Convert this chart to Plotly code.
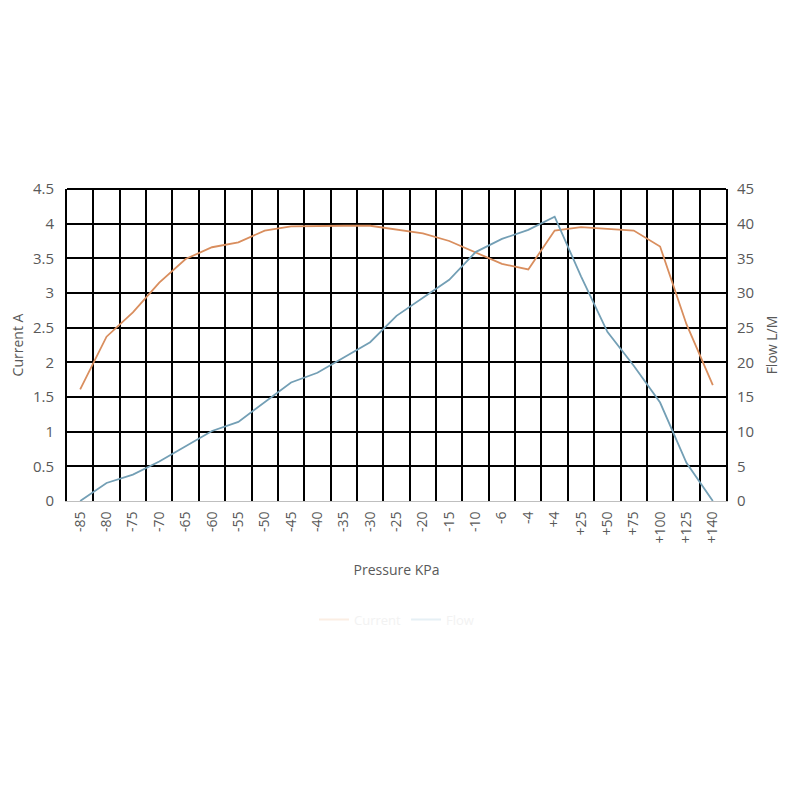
import plotly.graph_objects as go

pressure = ["-85", "-80", "-75", "-70", "-65", "-60", "-55", "-50", "-45", "-40",
            "-35", "-30", "-25", "-20", "-15", "-10", "-6", "-4", "+4", "+25",
            "+50", "+75", "+100", "+125", "+140"]
current_a = [1.61, 2.37, 2.72, 3.15, 3.49, 3.66, 3.73, 3.90, 3.96, 3.97,
             3.97, 3.97, 3.91, 3.86, 3.75, 3.58, 3.42, 3.34, 3.90, 3.95,
             3.92, 3.90, 3.67, 2.55, 1.67]
flow_lpm = [0.0, 2.6, 3.8, 5.7, 7.9, 10.1, 11.4, 14.2, 17.1, 18.5,
            20.7, 22.9, 26.7, 29.3, 31.9, 35.9, 37.8, 39.1, 41.0, 32.4,
            24.4, 19.5, 14.2, 5.5, 0.0]

ORANGE = "#d98e5e"
BLUE = "#739fb5"
GRID = "#000000"
TXT = "#595959"
FONT = "Open Sans"

fig = go.Figure()
fig.add_trace(go.Scatter(x=pressure, y=current_a, mode="lines", name="Current",
                         line=dict(color=ORANGE, width=1.8), showlegend=False))
fig.add_trace(go.Scatter(x=pressure, y=flow_lpm, mode="lines", name="Flow",
                         line=dict(color=BLUE, width=1.8), yaxis="y2", showlegend=False))
# faded legend entries (legend is washed out in the source)
fig.add_trace(go.Scatter(x=[None], y=[None], mode="lines", name="Current",
                         line=dict(color="#fbeee3", width=2)))
fig.add_trace(go.Scatter(x=[None], y=[None], mode="lines", name="Flow",
                         line=dict(color="#e6f0f5", width=2)))

fig.update_layout(
    width=800, height=800,
    margin=dict(l=59, r=82, t=181, b=307),
    paper_bgcolor="white", plot_bgcolor="white",
    font=dict(family=FONT, color=TXT, size=13),
    showlegend=True,
    legend=dict(orientation="h", x=0.5, xanchor="center", y=-0.38, yanchor="middle",
                font=dict(color="#f2f2f2", size=13), bgcolor="rgba(0,0,0,0)"),
    xaxis=dict(
        type="category", tickson="boundaries", ticks="outside", ticklen=0,
        tickcolor="white", automargin=False,
        range=[-0.5, len(pressure) - 0.5],
        tickangle=-90, showgrid=True, gridcolor=GRID, gridwidth=2,
        showline=True, linecolor="#bfbfbf", linewidth=1,
        tickfont=dict(size=14, color=TXT), ticklabelstandoff=4,
        title=dict(text="Pressure KPa", font=dict(size=14, color=TXT), standoff=22),
    ),
    yaxis=dict(
        range=[0, 4.5], dtick=0.5, showgrid=True, gridcolor=GRID, gridwidth=2,
        zeroline=False, ticks="", tickfont=dict(size=15, color=TXT),
        showline=True, mirror=True, linecolor=GRID, linewidth=2,
        ticklabelstandoff=8, automargin=False,
        title=dict(text="Current A", font=dict(size=14, color=TXT), standoff=8),
    ),
    yaxis2=dict(
        range=[0, 45], dtick=5, overlaying="y", side="right", showgrid=False,
        zeroline=False, ticks="", tickfont=dict(size=15, color=TXT),
        ticklabelstandoff=10, automargin=False,
        title=dict(text="Flow L/M", font=dict(size=14, color=TXT), standoff=14),
    ),
    shapes=[dict(type="line", xref="paper", yref="paper", x0=0, x1=1, y0=1, y1=1,
                 line=dict(color=GRID, width=2), layer="below")],
)

fig.write_html("out.html")
